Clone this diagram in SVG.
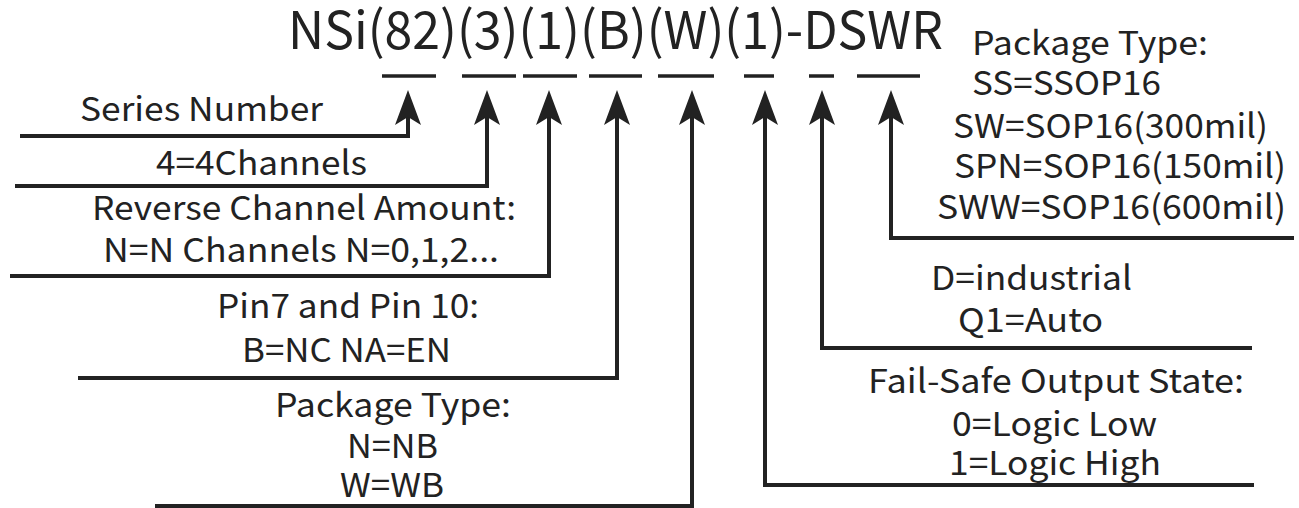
<svg xmlns="http://www.w3.org/2000/svg" width="1299" height="508" viewBox="0 0 1299 508">
<style>
text{font-family:"Noto Sans CJK SC","Noto Sans",sans-serif;fill:#222;}
.t{font-size:52px;}
.l{font-size:33px;}
.c{fill:none;stroke:#222;stroke-width:4;}
.bar{stroke:#222;stroke-width:3.5;}
</style>
<defs>
<marker id="ah" markerUnits="userSpaceOnUse" viewBox="-20 -15 40 30" markerWidth="40" markerHeight="30" refX="0" refY="0" orient="auto">
<path d="M18,0 L-17,-13 L-9,0 L-17,13 Z" fill="#222"/>
</marker>
</defs>
<rect width="1299" height="508" fill="#fff"/>
<g id="title">
<text class="t" x="288" y="49" textLength="655" lengthAdjust="spacingAndGlyphs">NSi(82)(3)(1)(B)(W)(1)-DSWR</text>
<line class="bar" x1="382" y1="76" x2="436" y2="76"/>
<line class="bar" x1="462" y1="76" x2="516" y2="76"/>
<line class="bar" x1="523" y1="76" x2="577" y2="76"/>
<line class="bar" x1="589" y1="76" x2="642" y2="76"/>
<line class="bar" x1="658" y1="76" x2="714" y2="76"/>
<line class="bar" x1="744" y1="76" x2="774" y2="76"/>
<line class="bar" x1="809" y1="76" x2="834" y2="76"/>
<line class="bar" x1="857" y1="76" x2="920" y2="76"/>
</g>
<g id="connectors">
<path class="c" d="M20,136 H408 V108" marker-end="url(#ah)"/>
<path class="c" d="M15,186 H487 V108" marker-end="url(#ah)"/>
<path class="c" d="M10,276 H549 V108" marker-end="url(#ah)"/>
<path class="c" d="M78,378 H617 V108" marker-end="url(#ah)"/>
<path class="c" d="M155,506 H692 V108" marker-end="url(#ah)"/>
<path class="c" d="M1254,485 H765 V108" marker-end="url(#ah)"/>
<path class="c" d="M1252,348 H822 V108" marker-end="url(#ah)"/>
<path class="c" d="M1294,238 H891 V108" marker-end="url(#ah)"/>
</g>
<g id="series"><text class="l" x="80" y="121" textLength="243" lengthAdjust="spacingAndGlyphs">Series Number</text></g>
<g id="channels"><text class="l" x="156" y="175" textLength="211" lengthAdjust="spacingAndGlyphs">4=4Channels</text></g>
<g id="reverse">
<text class="l" x="92" y="220" textLength="424" lengthAdjust="spacingAndGlyphs">Reverse Channel Amount:</text>
<text class="l" x="103" y="262" textLength="396" lengthAdjust="spacingAndGlyphs">N=N Channels N=0,1,2...</text>
</g>
<g id="pin">
<text class="l" x="217" y="318" textLength="262" lengthAdjust="spacingAndGlyphs">Pin7 and Pin 10:</text>
<text class="l" x="242" y="362" textLength="209" lengthAdjust="spacingAndGlyphs">B=NC NA=EN</text>
</g>
<g id="pkg-left">
<text class="l" x="275" y="417" textLength="236" lengthAdjust="spacingAndGlyphs">Package Type:</text>
<text class="l" x="347" y="458" textLength="91" lengthAdjust="spacingAndGlyphs">N=NB</text>
<text class="l" x="340" y="497" textLength="104" lengthAdjust="spacingAndGlyphs">W=WB</text>
</g>
<g id="pkg-right">
<text class="l" x="972" y="55" textLength="236" lengthAdjust="spacingAndGlyphs">Package Type:</text>
<text class="l" x="972" y="95" textLength="189" lengthAdjust="spacingAndGlyphs">SS=SSOP16</text>
<text class="l" x="953" y="138" textLength="315" lengthAdjust="spacingAndGlyphs">SW=SOP16(300mil)</text>
<text class="l" x="954" y="178" textLength="332" lengthAdjust="spacingAndGlyphs">SPN=SOP16(150mil)</text>
<text class="l" x="937" y="219" textLength="349" lengthAdjust="spacingAndGlyphs">SWW=SOP16(600mil)</text>
</g>
<g id="grade">
<text class="l" x="931" y="290" textLength="201" lengthAdjust="spacingAndGlyphs">D=industrial</text>
<text class="l" x="958" y="332" textLength="145" lengthAdjust="spacingAndGlyphs">Q1=Auto</text>
</g>
<g id="failsafe">
<text class="l" x="868" y="393" textLength="376" lengthAdjust="spacingAndGlyphs">Fail-Safe Output State:</text>
<text class="l" x="952" y="436" textLength="205" lengthAdjust="spacingAndGlyphs">0=Logic Low</text>
<text class="l" x="949" y="475" textLength="212" lengthAdjust="spacingAndGlyphs">1=Logic High</text>
</g>
</svg>
